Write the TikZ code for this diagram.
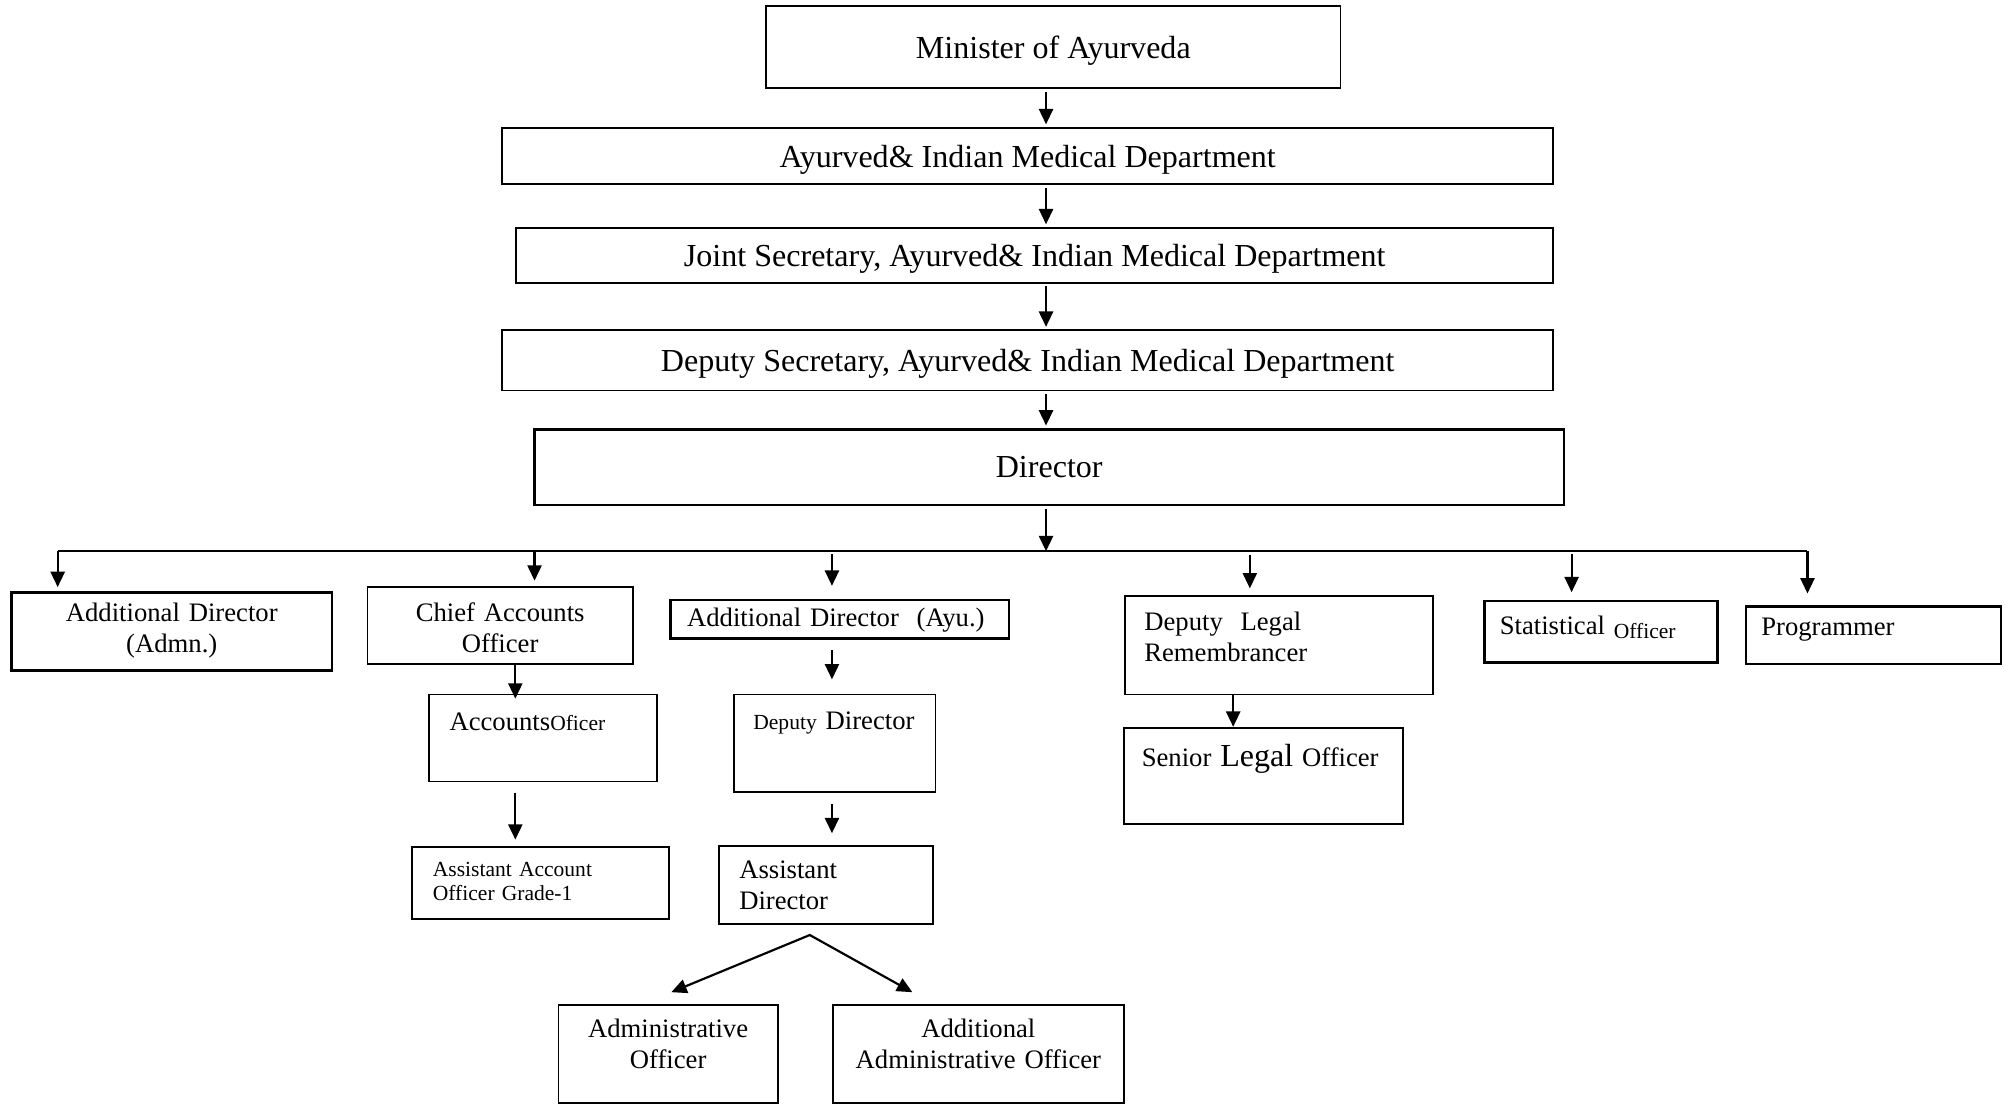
\documentclass[tikz,border=0pt]{standalone}
\usepackage{fontspec}
\setmainfont{Liberation Serif}
\usepackage{tikz}
\usetikzlibrary{arrows.meta,calc}
\newcommand{\fsmain}{\fontsize{12.5}{15}\selectfont}
\newcommand{\fsbox}{\fontsize{10.4}{12}\selectfont}
\newcommand{\fssmall}{\fontsize{8.4}{9.5}\selectfont}
\tikzset{>={Triangle[length=6pt,width=5.5pt]}}
\tikzset{
  box/.style={draw, line width=0.7pt, inner ysep=0pt, anchor=north west, font=\fsbox},
  heavy/.style={line width=1pt},
  link/.style={->, line width=0.85pt}
}

\begin{document}
\begin{tikzpicture}[x=0.5pt, y=-0.5pt]
            \useasboundingbox (0,0) rectangle (1568,861);
            % Top chain
            \node[box, font=\fsmain, text depth=0pt, minimum width=224pt, minimum height=32pt] (minister) at (597,4) {Minister of Ayurveda};
            \node[box, font=\fsmain, text depth=0pt, minimum width=410pt, minimum height=22pt] (dept) at (391,99) {Ayurved\& Indian Medical Department};
            \node[box, font=\fsmain, text depth=0pt, minimum width=404.5pt, minimum height=21.5pt] (jointsec) at (402,177) {Joint Secretary, Ayurved\& Indian Medical Department};
            \node[box, font=\fsmain, text depth=0pt, minimum width=410pt, minimum height=23.5pt] (deputysec) at (391,257) {Deputy Secretary, Ayurved\& Indian Medical Department};
            \node[box, heavy, font=\fsmain, text depth=0pt, minimum width=401.5pt, minimum height=29.5pt] (director) at (416,334) {Director};

            \coordinate (spine) at (816,0);
            \foreach \a/\b in {minister/dept, dept/jointsec, jointsec/deputysec, deputysec/director}
                \draw[link, shorten <=1pt, shorten >=1pt] (\a.south -| spine) -- (\b.north -| spine);

            % Bus
            \coordinate (busL) at (45,430);
            \coordinate (busR) at (1410,430);
            \draw[link, shorten <=1pt] (director.south -| spine) -- (spine |- busL);
            \draw[line width=0.6pt] (busL) -- (busR);

            % Second row
            \node[box, heavy, align=center, text width=117pt, inner xsep=4pt, text height=11.5pt, text depth=19pt] (addadmn) at (8,461) {Additional Director\\(Admn.)};
            \node[box, align=center, text width=95.5pt, inner xsep=4pt, text height=13.5pt, text depth=16.5pt] (chiefacc) at (286,457) {Chief Accounts\\Officer};
            \node[box, heavy, align=left, text width=119pt, inner xsep=6.5pt, text height=10.5pt, text depth=4.5pt] (adddirayu) at (522,467) {Additional Director\ \ (Ayu.)};
            \node[box, align=left, text width=105pt, inner xsep=7.5pt, text height=13.5pt, text depth=25pt] (deplegal) at (877,464) {Deputy\ \ Legal\\Remembrancer};
            \node[box, heavy, align=left, text width=79pt, inner xsep=6pt, text height=13pt, text depth=11pt] (statoff) at (1157,468) {Statistical \raisebox{-1.5pt}{\fssmall Officer}};
            \node[box, heavy, align=left, text width=87.5pt, inner xsep=6pt, text height=11.5pt, text depth=11pt] (programmer) at (1361,472) {Programmer};

            \foreach \x/\n/\t/\s in {45/addadmn/0pt/1.5pt, 417/chiefacc/0pt/2pt, 649/adddirayu/1pt/5pt, 975/deplegal/1.5pt/2.5pt, 1226/statoff/1pt/3pt, 1410/programmer/0pt/4.5pt}
                \draw[link, shorten <=\t, shorten >=\s] (busL -| \x,0) -- (\n.north -| \x,0);

            % Third and fourth rows
            \node[box, align=left, text width=73pt, inner xsep=8pt, text height=14pt, text depth=20pt] (accoff) at (334,541) {Accounts{\fssmall Oficer}};
            \node[box, align=left, text width=63.5pt, inner xsep=7.5pt, text height=13.5pt, text depth=24.5pt] (depdir) at (572,541) {{\fssmall Deputy }Director};
            \node[box, align=left, text width=95pt, inner xsep=7pt, text height=15pt, text depth=22.5pt] (seniorlegal) at (876,567) {Senior {\fsmain Legal} Officer};
            \node[box, align=left, font=\fssmall, text width=84pt, inner xsep=8pt, text height=11.5pt, text depth=16.5pt] (asstacc) at (321,660) {Assistant Account\\Officer Grade-1};
            \node[box, align=left, text width=67.5pt, inner xsep=8pt, text height=13pt, text depth=17.5pt] (asstdir) at (560,659) {Assistant\\Director};

            \draw[link, shorten >=-2pt] (chiefacc.south -| 402,0) -- (accoff.north -| 402,0);
            \draw[link, shorten <=4pt, shorten >=2.5pt] (accoff.south -| 402,0) -- (asstacc.north -| 402,0);
            \draw[link, shorten <=4pt, shorten >=5.5pt] (adddirayu.south -| 649,0) -- (depdir.north -| 649,0);
            \draw[link, shorten <=4.5pt, shorten >=4.5pt] (depdir.south -| 649,0) -- (asstdir.north -| 649,0);
            \draw[link] (deplegal.south -| 962,0) -- (seniorlegal.north -| 962,0);

            % Bottom row
            \node[box, align=center, text width=77.5pt, inner xsep=4pt, text height=13pt, text depth=25.5pt] (adminoff) at (435,783) {Administrative\\Officer};
            \node[box, align=center, text width=105.5pt, inner xsep=4pt, text height=13pt, text depth=25.5pt] (addadminoff) at (649,783) {Additional\\Administrative Officer};

            \coordinate (fork) at ($(asstdir.south)+(-12.5,8)$);
            \draw[link, <->] ($(adminoff.north)+(2.5,-9)$) -- (fork) -- ($(addadminoff.north)+(-51.5,-9)$);
        \end{tikzpicture}
\end{document}
